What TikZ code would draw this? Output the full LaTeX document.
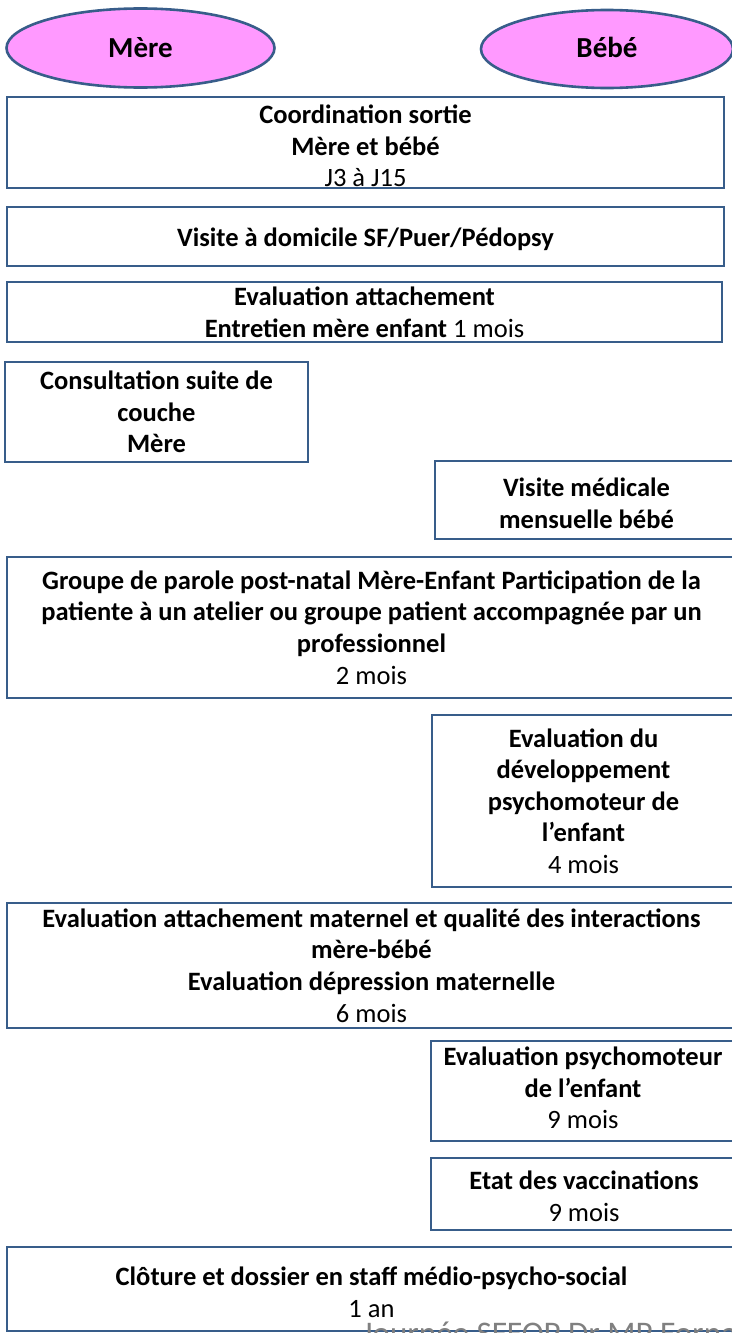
\documentclass[tikz,border=0pt]{standalone}
\usepackage{fontspec}
\setmainfont{Carlito}
\usetikzlibrary{shapes.geometric}
\definecolor{bord}{RGB}{56,93,138}
\definecolor{rose}{RGB}{255,153,255}
\definecolor{wmgray}{RGB}{128,128,128}
\tikzset{
  boxnode/.style={draw=bord, line width=2.6pt, rectangle, align=center, inner sep=0pt,
    font=\bfseries\fontsize{26.5}{31.6}\selectfont},
  ellnode/.style={draw=bord, fill=rose, ellipse, line width=2.6pt, inner sep=0pt,
    font=\bfseries\fontsize{29}{32}\selectfont},
}
\newcommand{\reg}[1]{{\mdseries #1}}
\newcommand{\tallstrut}[1]{\rule{0pt}{#1}}
\newcommand{\deepstrut}[1]{\rule[-#1]{0pt}{0pt}}
\begin{document}
\begin{tikzpicture}[x=1pt,y=-1pt]
\useasboundingbox (0,0) rectangle (731,1333);
\node[ellnode, minimum width=268pt, minimum height=79pt] (mere) at (140.5,48) {Mère};
\node[ellnode, minimum width=252pt, minimum height=78pt] (bebe) at (607,49) {Bébé\deepstrut{4pt}};

\node[boxnode, minimum width=717pt, minimum height=91pt] (coord) at (365.5,142.5)
  {\tallstrut{25.5pt}Coordination sortie\\Mère et bébé\\\reg{J3 à J15}};
\node[boxnode, minimum width=717pt, minimum height=59pt] (visite) at (365.5,236.5)
  {\tallstrut{25pt}Visite à domicile SF/Puer/Pédopsy};
\node[boxnode, minimum width=715pt, minimum height=60pt] (attach) at (364.5,312)
  {Evaluation attachement\\Entretien mère enfant \reg{1 mois}};
\node[boxnode, minimum width=303pt, minimum height=100pt] (consult) at (156.5,412)
  {Consultation suite de\\couche\\Mère};
\node[boxnode, minimum width=303pt, minimum height=78pt] (medic) at (586.5,500)
  {\tallstrut{25pt}Visite médicale\\mensuelle bébé};
\node[boxnode, minimum width=729pt, minimum height=141pt] (groupe) at (371.5,627.5)
  {Groupe de parole post-natal Mère-Enfant Participation de la\\patiente à un atelier ou groupe patient accompagnée par un\\professionnel\\\reg{2 mois}};
\node[boxnode, minimum width=303pt, minimum height=172pt] (devel) at (583.5,801)
  {Evaluation du\\développement\\psychomoteur de\\l’enfant\\\reg{4 mois}};
\node[boxnode, minimum width=729pt, minimum height=125pt] (mat) at (371.5,965.5)
  {Evaluation attachement maternel et qualité des interactions\\mère-bébé\\Evaluation dépression maternelle\\\reg{6 mois}};
\node[boxnode, minimum width=304pt, minimum height=100pt] (psycho) at (583,1091)
  {Evaluation psychomoteur\\de l’enfant\\\reg{9 mois}\deepstrut{6pt}};
\node[boxnode, minimum width=306pt, minimum height=72pt] (vacc) at (584,1194)
  {\tallstrut{23pt}Etat des vaccinations\\\reg{9 mois}};
\node[boxnode, minimum width=729pt, minimum height=84pt] (clot) at (371.5,1289)
  {\tallstrut{25.5pt}Clôture et dossier en staff médio-psycho-social\\\reg{1 an}};
\node[anchor=base west, text=wmgray, font=\fontsize{33}{36}\selectfont, inner sep=0pt] (wm)
  at (362,1344) {Journée SFFOP Dr MP Fornari};
\end{tikzpicture}
\end{document}
